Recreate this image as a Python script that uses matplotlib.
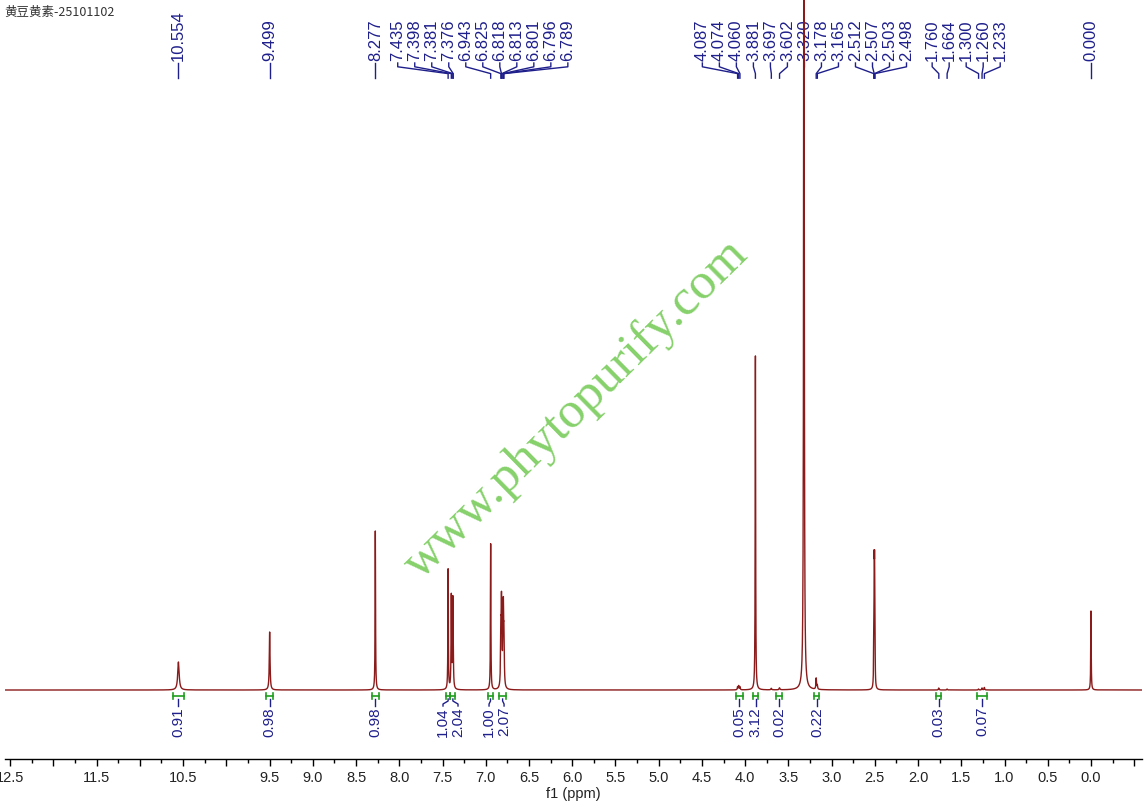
import numpy as np
import matplotlib
matplotlib.use('Agg')
import matplotlib.pyplot as plt
from matplotlib.ticker import FixedLocator, FixedFormatter, MultipleLocator

# peak list (ppm, height in screen units, half width in ppm)
peak_ppm = [10.554, 9.499, 8.277, 7.435, 7.398, 7.381, 7.376, 6.943,
            6.825, 6.818, 6.813, 6.801, 6.796, 6.789,
            4.087, 4.074, 4.060, 3.881, 3.697, 3.602, 3.320, 3.178, 3.165,
            2.512, 2.507, 2.503, 2.498, 1.760, 1.664, 1.300, 1.260, 1.233, 0.000]
peak_height = [28, 58, 159, 120, 92, 82, 25, 146,
               50, 70, 30, 32, 65, 45,
               3, 4, 3, 334, 1.5, 2, 1000, 11, 4,
               40, 100, 100, 40, 2, 1, 1, 2, 2.5, 79]
peak_hw = [0.010, 0.005, 0.003, 0.003, 0.0035, 0.0035, 0.0035, 0.003,
           0.004, 0.004, 0.004, 0.004, 0.004, 0.004,
           0.004, 0.004, 0.004, 0.003, 0.005, 0.005, 0.004, 0.004, 0.004,
           0.0025, 0.0025, 0.0025, 0.0025, 0.004, 0.004, 0.004, 0.004, 0.004, 0.003]

# integrals
int_start = [10.62, 9.54, 8.31, 7.46, 7.41, 6.97, 6.85, 4.11, 3.91, 3.64, 3.20, 1.79, 1.32]
int_end = [10.49, 9.46, 8.24, 7.41, 7.35, 6.92, 6.76, 4.03, 3.85, 3.57, 3.14, 1.73, 1.20]
int_value = [0.91, 0.98, 0.98, 1.04, 2.04, 1.00, 2.07, 0.05, 3.12, 0.02, 0.22, 0.03, 0.07]

title = '黄豆黄素-25101102'
watermark = 'www.phytopurify.com'

x_left, x_right = 12.56, -0.59
px_per_ppm = 86.4

# spectrum line (sum of lorentzian lines)
x = np.union1d(np.linspace(x_right, x_left, 120000), peak_ppm)
y = np.zeros_like(x)
for p, h, w in zip(peak_ppm, peak_height, peak_hw):
    y += h * w**2 / ((x - p)**2 + w**2)


def spread(pos, gap):
    # pos in ppm; returns label positions pushed apart by at least gap
    u = sorted(-np.array(pos))
    clusters = [[v] for v in u]
    merged = True
    while merged:
        merged = False
        new = [clusters[0]]
        for c in clusters[1:]:
            prev = new[-1]
            prev_right = np.mean(prev) + (len(prev) - 1) * gap / 2
            c_left = np.mean(c) - (len(c) - 1) * gap / 2
            if c_left - prev_right < gap:
                new[-1] = prev + c
                merged = True
            else:
                new.append(c)
        clusters = new
    out = []
    for c in clusters:
        n = len(c)
        out += list(np.mean(c) + (np.arange(n) - (n - 1) / 2) * gap)
    return [-v for v in out]


fig = plt.figure(figsize=(11.47, 8.11), dpi=100)
ax = fig.add_axes([5 / 1147, 52 / 811, 1137 / 1147, 759 / 811])

ax.plot(x, y, color='#8b1a1a', lw=1.0, zorder=3)
ax.set_xlim(x_left, x_right)
ax.set_ylim(-69, 690)

for s in ['left', 'top', 'right']:
    ax.spines[s].set_visible(False)
ax.spines['bottom'].set_linewidth(1.0)
ax.set_yticks([])

major = np.arange(-0.5, 12.51, 0.5)
labels = ['' if round(v, 1) in (12.0, 11.0, 10.0, -0.5) else f'{v:.1f}' for v in major]
ax.xaxis.set_major_locator(FixedLocator(major))
ax.xaxis.set_major_formatter(FixedFormatter(labels))
ax.xaxis.set_minor_locator(MultipleLocator(0.25))
ax.tick_params(axis='x', which='major', direction='out', length=5, width=1, pad=4,
               labelsize=10.5, labelcolor='#222222')
ax.tick_params(axis='x', which='minor', direction='out', length=3, width=1)
for t in ax.get_xticklabels():
    t.set_family('Liberation Sans')
ax.set_xlabel('f1 (ppm)', fontsize=10.5, family='Liberation Sans', labelpad=1, color='#222222')

# peak labels along the top
tr = ax.get_xaxis_transform()
navy = '#1f1f8c'
lab_x = spread(peak_ppm, 17 / px_per_ppm)
order = np.argsort(-np.array(peak_ppm))
for i, lx in zip(order, lab_x):
    p = peak_ppm[i]
    ax.plot([lx, lx, p, p], [0.917, 0.912, 0.903, 0.897], color=navy, lw=1.0,
            transform=tr, clip_on=False, zorder=2)
    ax.text(lx, 0.919, f'{p:.3f}', rotation=90, ha='center', va='bottom', color=navy,
            fontsize=12, family='Liberation Sans', transform=tr, zorder=2)

# integrals under the baseline
green = '#1f9e1f'
mids = [(a + b) / 2 for a, b in zip(int_start, int_end)]
int_x = spread(mids, 15 / px_per_ppm)
iorder = np.argsort(-np.array(mids))
for i, lx in zip(iorder, int_x):
    a, b = int_start[i], int_end[i]
    m = mids[i]
    ax.plot([a, b], [-6, -6], color=green, lw=1.2, zorder=2)
    ax.plot([a, a], [-3, -9], color=green, lw=1.2, zorder=2)
    ax.plot([b, b], [-3, -9], color=green, lw=1.2, zorder=2)
    ax.plot([m, m, lx, lx], [-9, -11, -14, -16], color=navy, lw=1.0, zorder=2)
    ax.text(lx, -17, f'{int_value[i]:.2f}', rotation=90, ha='center', va='top', color=navy,
            fontsize=11, family='Liberation Sans', zorder=2)

fig.text(0.004, 0.985, title, fontsize=9, va='center', ha='left', color='#333333',
         family=['Noto Sans CJK SC', 'DejaVu Sans'])

fig.text(576 / 1147, 1 - 409 / 811, watermark, rotation=44.5, ha='center', va='center',
         fontsize=37, family='Liberation Serif', color='#86d16b', zorder=1,
         rotation_mode='anchor')

fig.savefig('out.png', dpi=100)
